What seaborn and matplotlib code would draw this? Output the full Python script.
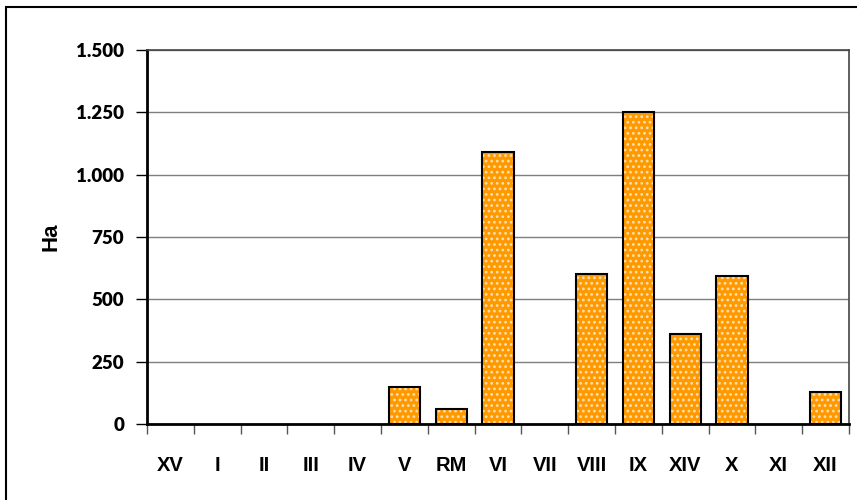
import numpy as np
import pandas as pd
import matplotlib
matplotlib.use("Agg")
import matplotlib.pyplot as plt
from matplotlib.patches import Rectangle
from matplotlib.ticker import FixedLocator, FuncFormatter
import seaborn as sns

zones = ["XV", "I", "II", "III", "IV", "V", "RM", "VI", "VII", "VIII", "IX", "XIV", "X", "XI", "XII"]
hectares = [0, 0, 0, 0, 0, 150, 62, 1090, 0, 600, 1250, 360, 595, 0, 130]
y_ticks = [0, 250, 500, 750, 1000, 1250, 1500]

df = pd.DataFrame({"zone": zones, "ha": hectares})

sns.set_style("white")
plt.rcParams["text.color"] = "black"
plt.rcParams["xtick.color"] = "black"
plt.rcParams["ytick.color"] = "black"
plt.rcParams["axes.labelcolor"] = "black"
plt.rcParams["hatch.linewidth"] = 1.2

fig = plt.figure(figsize=(8.57, 5), dpi=100)
ax = fig.add_axes([147 / 857, 1 - 424 / 500, 702 / 857, 374 / 500])

# outer frame of the chart (cropped on right and bottom like the original)
fig.patches.append(Rectangle((6 / 857, -0.1), 1.2, 1 - 7 / 500 + 0.1, transform=fig.transFigure,
                             fill=False, edgecolor="black", linewidth=1.5, zorder=0))

sns.barplot(data=df, x="zone", y="ha", ax=ax, color="#FF9900", width=0.67,
            saturation=1, edgecolor="white", linewidth=0, zorder=3)
for p in ax.patches:
    if p.get_height() <= 0:
        p.set_visible(False)
        continue
    p.set_hatch("...")
    p.set_edgecolor("#FFE0B0")
    p.set_linewidth(0)
    ax.add_patch(Rectangle(p.get_xy(), p.get_width(), p.get_height(), fill=False,
                           edgecolor="black", linewidth=1.5, zorder=4))

ax.set_xlim(-0.5, len(zones) - 0.5)
ax.set_ylim(0, 1500)
ax.set_yticks(y_ticks)
ax.yaxis.set_major_formatter(FuncFormatter(lambda v, _: f"{int(v):,}".replace(",", ".")))
ax.grid(axis="y", color="#7f7f7f", linewidth=1, zorder=0)
ax.set_axisbelow(True)

ax.xaxis.set_minor_locator(FixedLocator(np.arange(-0.5, len(zones), 1)))
ax.tick_params(axis="x", which="major", length=0, pad=23)
ax.tick_params(axis="x", which="minor", length=7, width=1, color="#555555", direction="out", bottom=True)
ax.tick_params(axis="y", length=8, width=1, color="black", direction="out", left=True, pad=8.5)

fig.canvas.draw()
for lab in ax.get_xticklabels():
    lab.set_fontproperties({"family": "Liberation Sans", "weight": "bold", "size": 14.5})
for lab in ax.get_yticklabels():
    lab.set_fontproperties({"family": "Lato", "weight": "heavy", "size": 13.5})

ax.set_xlabel("")
ax.set_ylabel("Ha", fontfamily="Liberation Sans", fontweight="bold", fontsize=16)
ax.yaxis.set_label_coords((62 - 147) / 702, 0.5)

for side in ["left", "bottom"]:
    ax.spines[side].set_color("black")
    ax.spines[side].set_linewidth(2)
for side in ["top", "right"]:
    ax.spines[side].set_color("#444444")
    ax.spines[side].set_linewidth(1.2)

fig.savefig("out.png", dpi=100)
